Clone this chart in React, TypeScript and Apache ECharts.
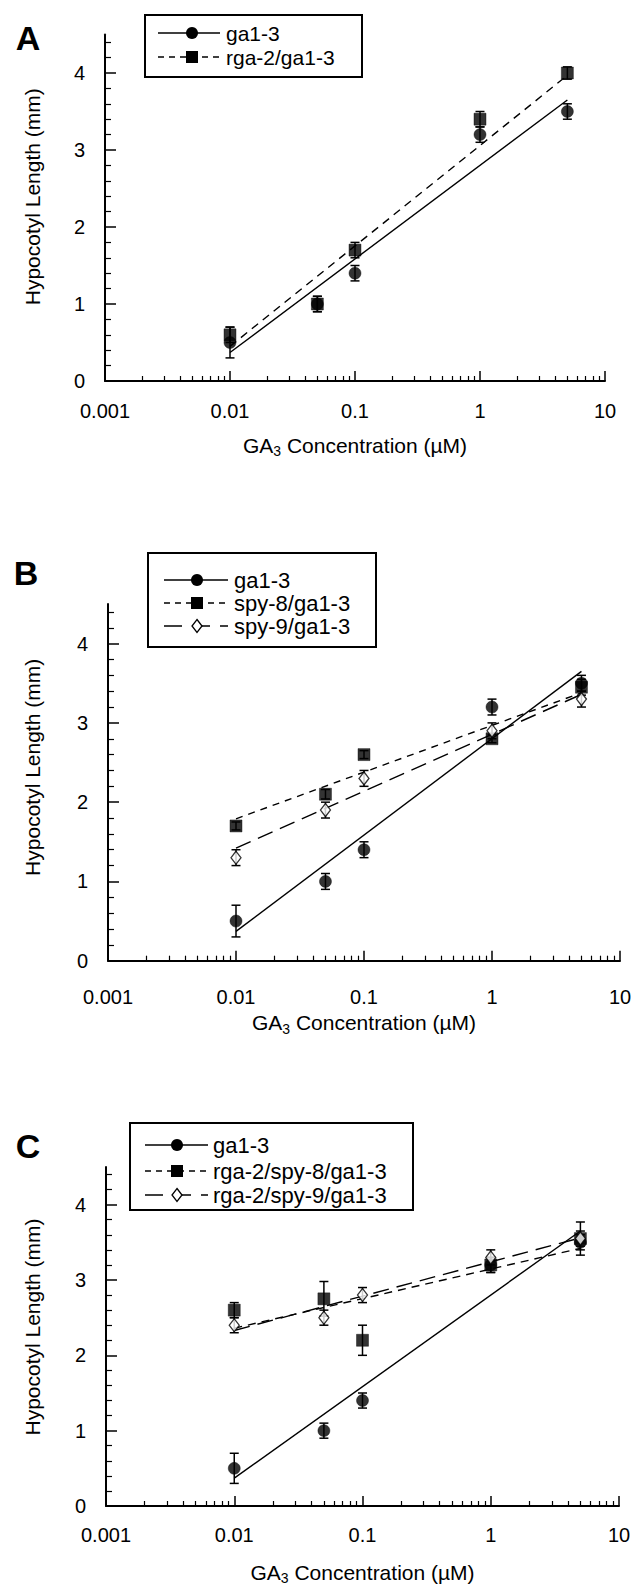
import React, { useEffect, useRef } from 'react';
import * as echarts from 'echarts';

const FONT = '"Liberation Sans", Arial, Helvetica, sans-serif';

// ---------- axis ticks ----------
const xTickValues = [0.001, 0.01, 0.1, 1, 10];
const xTickLabels = ['0.001', '0.01', '0.1', '1', '10'];
const xMinorDecades = [0.001, 0.01, 0.1, 1];
const xMinorMultipliers = [2, 3, 4, 5, 6, 7, 8, 9];
const yTickValues = [0, 1, 2, 3, 4];
const yTickLabels = ['0', '1', '2', '3', '4'];
const yMinorTickValues = [0.2, 0.4, 0.6, 0.8, 1.2, 1.4, 1.6, 1.8, 2.2, 2.4, 2.6, 2.8, 3.2, 3.4, 3.6, 3.8, 4.2, 4.4];

// ---------- data (GA3 concentration, µM) ----------
const concentrations = [0.01, 0.05, 0.1, 1, 5];
const fitRange = [0.01, 5];

// ga1-3 (same in all panels)
const ga13Mean = [0.5, 1.0, 1.4, 3.2, 3.5];
const ga13Err = [0.2, 0.1, 0.1, 0.1, 0.1];
const ga13Fit = [0.37, 3.65];

// Panel A
const rga2Mean = [0.6, 1.0, 1.7, 3.4, 4.0];
const rga2Err = [0.1, 0.1, 0.1, 0.1, 0.08];
const rga2Fit = [0.45, 3.97];

// Panel B
const spy8Mean = [1.7, 2.1, 2.6, 2.8, 3.45];
const spy8Err = [0.05, 0.06, 0.05, 0.05, 0.1];
const spy8Fit = [1.79, 3.38];
const spy9Mean = [1.3, 1.9, 2.3, 2.9, 3.3];
const spy9Err = [0.1, 0.1, 0.1, 0.1, 0.1];
const spy9Fit = [1.42, 3.36];

// Panel C
const rga2spy8Mean = [2.6, 2.75, 2.2, 3.2, 3.55];
const rga2spy8Err = [0.1, 0.23, 0.2, 0.1, 0.22];
const rga2spy8Fit = [2.36, 3.42];
const rga2spy9Mean = [2.4, 2.5, 2.8, 3.3, 3.55];
const rga2spy9Err = [0.1, 0.1, 0.1, 0.1, 0.1];
const rga2spy9Fit = [2.33, 3.56];

// ---------- helpers ----------
type Marker = 'circle' | 'square' | 'diamond';

const markerStyle: Record<Marker, any> = {
  circle: { symbol: 'circle', symbolSize: 12, itemStyle: { color: '#000', borderColor: '#000', borderWidth: 0.5 } },
  square: { symbol: 'rect', symbolSize: 12, itemStyle: { color: '#000', borderColor: '#000', borderWidth: 0.5 } },
  diamond: { symbol: 'diamond', symbolSize: [10, 13], itemStyle: { color: '#fff', borderColor: '#000', borderWidth: 1.3 } },
};

function scatterSeries(name: string, gi: number, ys: number[], marker: Marker) {
  return {
    name,
    type: 'scatter',
    xAxisIndex: gi,
    yAxisIndex: gi,
    z: 4,
    silent: true,
    data: concentrations.map((x, i) => [x, ys[i]]),
    ...markerStyle[marker],
  };
}

function errSeries(name: string, gi: number, ys: number[], es: number[]) {
  return {
    name: name + ' SE',
    type: 'custom',
    xAxisIndex: gi,
    yAxisIndex: gi,
    z: 3,
    silent: true,
    data: concentrations.map((x, i) => [x, ys[i], es[i]]),
    encode: { x: 0, y: 1 },
    renderItem: (_params: any, api: any) => {
      const x = api.value(0);
      const y = api.value(1);
      const e = api.value(2);
      const p1 = api.coord([x, y + e]);
      const p2 = api.coord([x, y - e]);
      const w = 4.5;
      const st = { stroke: '#000', lineWidth: 1.5 };
      return {
        type: 'group',
        children: [
          { type: 'line', shape: { x1: p1[0], y1: p1[1], x2: p2[0], y2: p2[1] }, style: st },
          { type: 'line', shape: { x1: p1[0] - w, y1: p1[1], x2: p1[0] + w, y2: p1[1] }, style: st },
          { type: 'line', shape: { x1: p2[0] - w, y1: p2[1], x2: p2[0] + w, y2: p2[1] }, style: st },
        ],
      };
    },
  };
}

function fitSeries(name: string, gi: number, fit: number[], dash: any) {
  return {
    name: name + ' fit',
    type: 'line',
    xAxisIndex: gi,
    yAxisIndex: gi,
    z: 2,
    silent: true,
    symbol: 'none',
    showSymbol: false,
    data: fitRange.map((x, i) => [x, fit[i]]),
    lineStyle: { color: '#000', width: 1.4, type: dash },
  };
}

const xMinorValues: number[] = [];
xMinorDecades.forEach((d) => xMinorMultipliers.forEach((m) => xMinorValues.push(m * d)));

const xLabelFormatter = (v: number) => {
  const i = xTickValues.findIndex((t) => Math.abs(Math.log10(t) - Math.log10(v)) < 1e-6);
  return i >= 0 ? xTickLabels[i] : '';
};
const yLabelFormatter = (v: number) => {
  const i = yTickValues.findIndex((t) => Math.abs(t - v) < 1e-6);
  return i >= 0 ? yTickLabels[i] : '';
};

const panels = [
  { grid: { left: 105, top: 34.5, width: 500, height: 346.5 }, xLabelMargin: 20, xNameGap: 51, yNameGap: 62, yNameShift: 22 },
  { grid: { left: 108, top: 604, width: 512, height: 356.7 }, xLabelMargin: 26, xNameGap: 49, yNameGap: 65, yNameShift: 30 },
  { grid: { left: 106, top: 1167, width: 513, height: 339 }, xLabelMargin: 19, xNameGap: 53, yNameGap: 63, yNameShift: 19 },
];

function buildAxes() {
  const xMain: any[] = [];
  const xMinor: any[] = [];
  const yMain: any[] = [];
  const yMinor: any[] = [];
  panels.forEach((p, gi) => {
    xMain.push({
      type: 'log',
      logBase: 10,
      gridIndex: gi,
      position: 'bottom',
      min: 0.001,
      max: 10,
      name: '{n|GA}{s|3}{n| Concentration (µM)}',
      nameLocation: 'middle',
      nameGap: p.xNameGap,
      nameTextStyle: {
        color: '#000',
        fontFamily: FONT,
        fontSize: 21,
        rich: {
          n: { fontSize: 21, fontFamily: FONT, color: '#000', lineHeight: 26, verticalAlign: 'middle' },
          s: { fontSize: 14, fontFamily: FONT, color: '#000', lineHeight: 14, verticalAlign: 'bottom' },
        },
      },
      axisLine: { show: true, onZero: false, lineStyle: { color: '#000', width: 2 } },
      axisTick: { show: true, inside: true, length: 10, customValues: xTickValues, lineStyle: { color: '#000', width: 1.5 } },
      axisLabel: {
        show: true,
        customValues: xTickValues,
        formatter: xLabelFormatter,
        color: '#000',
        fontFamily: FONT,
        fontSize: 20,
        margin: p.xLabelMargin,
      },
      splitLine: { show: false },
      minorTick: { show: false },
    });
    xMinor.push({
      type: 'log',
      logBase: 10,
      gridIndex: gi,
      position: 'bottom',
      min: 0.001,
      max: 10,
      axisLine: { show: false, onZero: false },
      axisTick: { show: true, inside: true, length: 5, customValues: xMinorValues, lineStyle: { color: '#000', width: 1.2 } },
      axisLabel: { show: false },
      splitLine: { show: false },
    });
    yMain.push({
      type: 'value',
      gridIndex: gi,
      position: 'left',
      min: 0,
      max: 4.5,
      name: 'Hypocotyl Length (mm)',
      nameLocation: 'middle',
      nameGap: p.yNameGap,
      nameTextStyle: { color: '#000', fontFamily: FONT, fontSize: 21, padding: [0, 0, 0, p.yNameShift] },
      axisLine: { show: true, onZero: false, lineStyle: { color: '#000', width: 2 } },
      axisTick: { show: true, inside: true, length: 11, customValues: yTickValues, lineStyle: { color: '#000', width: 1.5 } },
      axisLabel: {
        show: true,
        customValues: yTickValues,
        formatter: yLabelFormatter,
        color: '#000',
        fontFamily: FONT,
        fontSize: 20,
        margin: 20,
      },
      splitLine: { show: false },
      minorTick: { show: false },
    });
    yMinor.push({
      type: 'value',
      gridIndex: gi,
      position: 'left',
      min: 0,
      max: 4.5,
      axisLine: { show: false, onZero: false },
      axisTick: { show: true, inside: true, length: 6, customValues: yMinorTickValues, lineStyle: { color: '#000', width: 1.2 } },
      axisLabel: { show: false },
      splitLine: { show: false },
    });
  });
  return { xAxis: [...xMain, ...xMinor], yAxis: [...yMain, ...yMinor] };
}

// ---------- legend (drawn as graphic) ----------
type LegendRow = { y: number; label: string; marker: Marker; dash: number[] | null };
type LegendBox = { x: number; y: number; w: number; h: number; lineX1: number; lineX2: number; markerX: number; textX: number; fontSize: number; rows: LegendRow[] };

function markerGraphic(marker: Marker, cx: number, cy: number) {
  if (marker === 'circle') {
    return { type: 'circle', shape: { cx, cy, r: 6 }, style: { fill: '#000' } };
  }
  if (marker === 'square') {
    return { type: 'rect', shape: { x: cx - 6, y: cy - 6, width: 12, height: 12 }, style: { fill: '#000' } };
  }
  return {
    type: 'polygon',
    shape: { points: [[cx, cy - 6.5], [cx + 5, cy], [cx, cy + 6.5], [cx - 5, cy]] },
    style: { fill: '#fff', stroke: '#000', lineWidth: 1.3 },
  };
}

function legendGraphic(b: LegendBox) {
  const children: any[] = [
    { type: 'rect', shape: { x: b.x, y: b.y, width: b.w, height: b.h }, style: { fill: '#fff', stroke: '#000', lineWidth: 2 } },
  ];
  b.rows.forEach((r) => {
    children.push({
      type: 'line',
      shape: { x1: b.lineX1, y1: r.y, x2: b.lineX2, y2: r.y },
      style: { stroke: '#000', lineWidth: 1.3, lineDash: r.dash || undefined },
    });
    children.push(markerGraphic(r.marker, b.markerX, r.y));
    children.push({
      type: 'text',
      style: {
        x: b.textX,
        y: r.y,
        text: r.label,
        font: `${b.fontSize}px ${FONT}`,
        fill: '#000',
        textAlign: 'left',
        textVerticalAlign: 'middle',
        align: 'left',
        verticalAlign: 'middle',
      },
    });
  });
  return { type: 'group', children };
}

function panelLetter(letter: string, x: number, y: number) {
  return {
    type: 'text',
    style: {
      x,
      y,
      text: letter,
      font: `bold 34px ${FONT}`,
      fill: '#000',
      textAlign: 'center',
      textVerticalAlign: 'middle',
      align: 'center',
      verticalAlign: 'middle',
    },
  };
}

const legends: LegendBox[] = [
  {
    x: 145, y: 15, w: 217, h: 62, lineX1: 158, lineX2: 220, markerX: 192, textX: 226, fontSize: 21,
    rows: [
      { y: 33, label: 'ga1-3', marker: 'circle', dash: null },
      { y: 57, label: 'rga-2/ga1-3', marker: 'square', dash: [6, 5] },
    ],
  },
  {
    x: 148, y: 553, w: 228, h: 94, lineX1: 164, lineX2: 228, markerX: 197, textX: 234, fontSize: 22,
    rows: [
      { y: 580, label: 'ga1-3', marker: 'circle', dash: null },
      { y: 603, label: 'spy-8/ga1-3', marker: 'square', dash: [6, 5] },
      { y: 626, label: 'spy-9/ga1-3', marker: 'diamond', dash: [18, 10] },
    ],
  },
  {
    x: 130, y: 1123, w: 283, h: 87, lineX1: 145, lineX2: 208, markerX: 177, textX: 213, fontSize: 22,
    rows: [
      { y: 1145, label: 'ga1-3', marker: 'circle', dash: null },
      { y: 1171, label: 'rga-2/spy-8/ga1-3', marker: 'square', dash: [6, 5] },
      { y: 1195, label: 'rga-2/spy-9/ga1-3', marker: 'diamond', dash: [18, 10] },
    ],
  },
];

function buildOption() {
  const { xAxis, yAxis } = buildAxes();
  const series: any[] = [
    // Panel A
    fitSeries('ga1-3 (A)', 0, ga13Fit, 'solid'),
    fitSeries('rga-2/ga1-3', 0, rga2Fit, [8, 6]),
    errSeries('ga1-3 (A)', 0, ga13Mean, ga13Err),
    errSeries('rga-2/ga1-3', 0, rga2Mean, rga2Err),
    scatterSeries('ga1-3 (A)', 0, ga13Mean, 'circle'),
    scatterSeries('rga-2/ga1-3', 0, rga2Mean, 'square'),
    // Panel B
    fitSeries('ga1-3 (B)', 1, ga13Fit, 'solid'),
    fitSeries('spy-8/ga1-3', 1, spy8Fit, [7, 6]),
    fitSeries('spy-9/ga1-3', 1, spy9Fit, [16, 8]),
    errSeries('ga1-3 (B)', 1, ga13Mean, ga13Err),
    errSeries('spy-8/ga1-3', 1, spy8Mean, spy8Err),
    errSeries('spy-9/ga1-3', 1, spy9Mean, spy9Err),
    scatterSeries('ga1-3 (B)', 1, ga13Mean, 'circle'),
    scatterSeries('spy-8/ga1-3', 1, spy8Mean, 'square'),
    scatterSeries('spy-9/ga1-3', 1, spy9Mean, 'diamond'),
    // Panel C
    fitSeries('ga1-3 (C)', 2, ga13Fit, 'solid'),
    fitSeries('rga-2/spy-8/ga1-3', 2, rga2spy8Fit, [8, 6]),
    fitSeries('rga-2/spy-9/ga1-3', 2, rga2spy9Fit, [16, 8]),
    errSeries('ga1-3 (C)', 2, ga13Mean, ga13Err),
    errSeries('rga-2/spy-8/ga1-3', 2, rga2spy8Mean, rga2spy8Err),
    errSeries('rga-2/spy-9/ga1-3', 2, rga2spy9Mean, rga2spy9Err),
    scatterSeries('ga1-3 (C)', 2, ga13Mean, 'circle'),
    scatterSeries('rga-2/spy-8/ga1-3', 2, rga2spy8Mean, 'square'),
    scatterSeries('rga-2/spy-9/ga1-3', 2, rga2spy9Mean, 'diamond'),
  ];

  return {
    animation: false,
    backgroundColor: '#fff',
    textStyle: { fontFamily: FONT, color: '#000' },
    grid: panels.map((p) => ({ ...p.grid, containLabel: false, outerBoundsMode: 'none' })),
    xAxis,
    yAxis,
    series,
    graphic: [
      panelLetter('A', 28, 38),
      panelLetter('B', 26, 573),
      panelLetter('C', 28, 1146),
      ...legends.map(legendGraphic),
    ],
  };
}

export default function App() {
  const ref = useRef<HTMLDivElement>(null);
  useEffect(() => {
    document.body.style.margin = '0';
    if (!ref.current) return;
    const chart = echarts.init(ref.current, undefined, { renderer: 'svg' });
    chart.setOption(buildOption() as any);
    return () => chart.dispose();
  }, []);
  return <div ref={ref} style={{ width: 633, height: 1590 }} />;
}
